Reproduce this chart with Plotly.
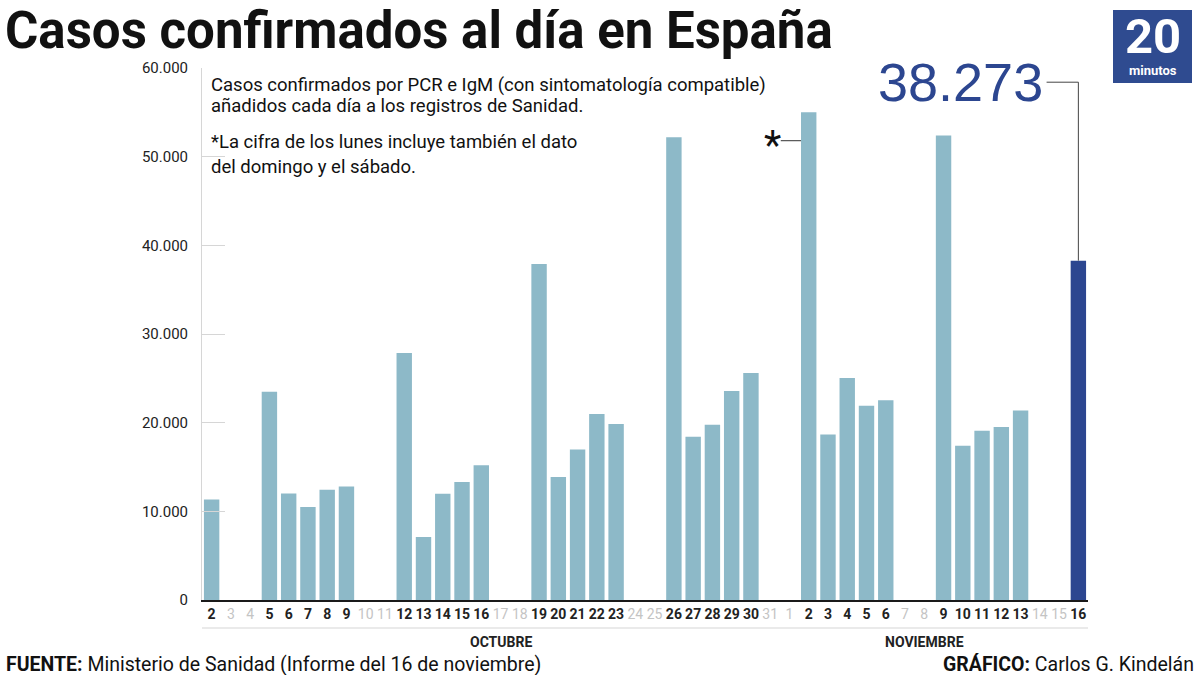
import plotly.graph_objects as go

# ---------------- data ----------------
dias = [str(d) for d in range(2, 32)] + [str(d) for d in range(1, 17)]
mes = ["OCTUBRE"] * 30 + ["NOVIEMBRE"] * 16
casos = [
    11325, None, None, 23480, 11998, 10491, 12423, 12788, None, None,   # 2-11 oct
    27856, 7118, 11970, 13318, 15186, None, None, 37889, 13873, 16973,  # 12-21 oct
    20986, 19851, None, None, 52188, 18418, 19765, 23580, 25595, None,  # 22-31 oct
    None, 55019, 18669, 25042, 21908, 22516, None, None, 52386, 17395,  # 1-10 nov
    19096, 19511, 21371, None, None, 38273,                             # 11-16 nov
]
y_ticks = [0, 10000, 20000, 30000, 40000, 50000, 60000]
destacado = "38.273"
titulo = "Casos confirmados al día en España"
nota_1 = ["Casos confirmados por PCR e IgM (con sintomatología compatible)",
          "añadidos cada día a los registros de Sanidad."]
nota_2 = ["*La cifra de los lunes incluye también el dato",
          "del domingo y el sábado."]

# ---------------- layout helpers ----------------
W, H = 1200, 675
L, R, T, B = 202, 1088, 68, 600


def px(x):
    return (x - L) / (R - L)


def py(y):
    return (B - y) / (B - T)


idx = list(range(len(dias)))
last = len(dias) - 1
bar_colors = ["#8db9c8"] * len(dias)
bar_colors[last] = "#2c4690"

ticktext = []
for i, d in enumerate(dias):
    if casos[i] is None:
        ticktext.append(f"<span style='color:#c4c4c4'>{d}</span>")
    else:
        ticktext.append(f"<b>{d}</b>")

fig = go.Figure()
fig.add_trace(go.Bar(
    x=idx, y=casos, marker=dict(color=bar_colors, line=dict(width=0)),
    hoverinfo="skip",
))

FONT = "Roboto, Liberation Sans, sans-serif"
NARROW = "Liberation Sans Narrow, Roboto, sans-serif"

shapes = []
annotations = []

# title
annotations.append(dict(text=f"<b>{titulo}</b>", xref="paper", yref="paper",
                        x=px(3), y=py(30), xanchor="left", yanchor="middle",
                        showarrow=False, font=dict(family=FONT, size=51, color="#111")))

# gray line under day labels
shapes.append(dict(type="line", xref="paper", yref="paper", x0=0, x1=1,
                   y0=py(628), y1=py(628), line=dict(color="#e3e3e3", width=1.5)))

# month labels
for m, center in [("OCTUBRE", 15), ("NOVIEMBRE", 37)]:
    annotations.append(dict(text=f"<b>{m}</b>", xref="x", yref="paper", x=center,
                            y=py(642), showarrow=False, xanchor="center", yanchor="middle",
                            font=dict(family=FONT, size=14, color="#222")))

# explanatory notes (one annotation per line)
for txt, yy in zip(nota_1 + nota_2, [85, 106, 142, 167]):
    annotations.append(dict(
        text=txt, xref="paper", yref="paper", x=px(209), y=py(yy),
        xanchor="left", yanchor="middle", align="left", showarrow=False,
        font=dict(family=NARROW, size=18.5, color="#111")))

# asterisk marker for Nov 2
i_nov2 = 31
annotations.append(dict(text="*", xref="x", yref="y", x=i_nov2 - 1.9, y=51300,
                        showarrow=False, xanchor="center", yanchor="middle",
                        font=dict(family=FONT, size=40, color="#111")))
shapes.append(dict(type="line", xref="x", yref="y", x0=i_nov2 - 1.45, x1=i_nov2 - 0.4,
                   y0=51800, y1=51800, line=dict(color="#333", width=1)))

# highlighted last value
annotations.append(dict(text=destacado, xref="x", yref="y", x=last - 1.75, y=58400,
                        showarrow=False, xanchor="right", yanchor="middle",
                        font=dict(family="Liberation Sans, Arial, sans-serif", size=54, color="#2c4690")))
shapes.append(dict(type="line", xref="x", yref="y", x0=last - 1.65, x1=last,
                   y0=58400, y1=58400, line=dict(color="#444", width=1)))
shapes.append(dict(type="line", xref="x", yref="y", x0=last, x1=last,
                   y0=58400, y1=casos[last], line=dict(color="#444", width=1)))

# logo
shapes.append(dict(type="rect", xref="paper", yref="paper", x0=px(1113), x1=px(1192),
                   y0=py(83), y1=py(10), fillcolor="#2f4b90", line=dict(width=0)))
annotations.append(dict(text="<b>20</b>", xref="paper", yref="paper", x=px(1152.5), y=py(36),
                        showarrow=False, xanchor="center", yanchor="middle",
                        font=dict(family=FONT, size=49, color="white")))
annotations.append(dict(text="<b>minutos</b>", xref="paper", yref="paper", x=px(1152.5), y=py(70),
                        showarrow=False, xanchor="center", yanchor="middle",
                        font=dict(family=FONT, size=13, color="white")))

# footer
annotations.append(dict(text="<b>FUENTE:</b> Ministerio de Sanidad (Informe del 16 de noviembre)",
                        xref="paper", yref="paper", x=px(4), y=py(664), showarrow=False,
                        xanchor="left", yanchor="middle",
                        font=dict(family=NARROW, size=19.5, color="#111")))
annotations.append(dict(text="<b>GRÁFICO:</b> Carlos G. Kindelán",
                        xref="paper", yref="paper", x=px(1196), y=py(664), showarrow=False,
                        xanchor="right", yanchor="middle",
                        font=dict(family=NARROW, size=19.5, color="#111")))

fig.update_layout(
    width=W, height=H,
    margin=dict(l=L, r=W - R, t=T, b=H - B),
    paper_bgcolor="white", plot_bgcolor="white",
    separators=",.",
    bargap=0.2,
    showlegend=False,
    xaxis=dict(range=[-0.5, len(dias) - 0.5], tickmode="array", tickvals=idx, ticktext=ticktext,
               showline=True, linecolor="#1a1a1a", linewidth=2, showgrid=False, ticks="",
               tickfont=dict(family=FONT, size=14, color="#222"), tickangle=0,
               fixedrange=True),
    yaxis=dict(range=[0, 60000], tickmode="array", tickvals=y_ticks, tickformat=",d",
               showline=True, linecolor="#d6d6d6", linewidth=1, showgrid=False,
               ticks="inside", ticklen=23, tickcolor="#d6d6d6", zeroline=False,
               ticklabelstandoff=10,
               tickfont=dict(family=FONT, size=15, color="#222"), fixedrange=True),
    shapes=shapes, annotations=annotations,
)

fig.write_html("out.html")
